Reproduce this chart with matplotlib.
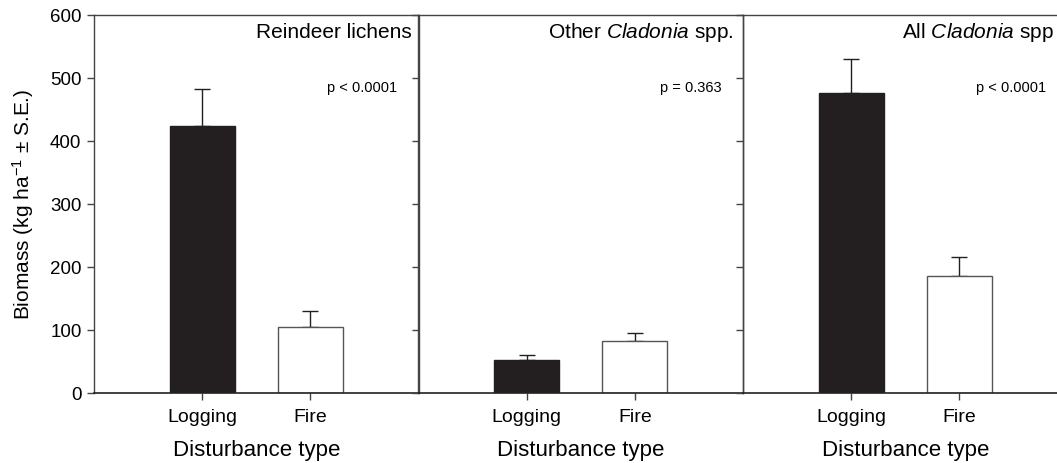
import matplotlib
matplotlib.use('Agg')
import matplotlib.pyplot as plt

plt.rcParams['font.family'] = 'Liberation Sans'
plt.rcParams['mathtext.fontset'] = 'custom'
plt.rcParams['mathtext.rm'] = 'Liberation Sans'
plt.rcParams['mathtext.it'] = 'Liberation Sans:italic'

# Data
categories = ['Logging', 'Fire']
panel_titles = ['Reindeer lichens', r'Other $\it{Cladonia}$ spp.', r'All $\it{Cladonia}$ spp']
p_values = ['p < 0.0001', 'p = 0.363', 'p < 0.0001']
means = [[424, 104], [52, 82], [475, 186]]
errors = [[58, 25], [8, 13], [55, 30]]

bar_colors = ['#231f20', 'white']
edge_colors = ['#231f20', '#555555']
title_x = [0.978, 0.972, 0.957]

fig = plt.figure(figsize=(10.57, 4.64), dpi=100)
W, H = 1057, 464
left0, pw = 94, 324.5
top, bottom = 15.7, 393.7

spine_col = '#444444'
for i in range(3):
    ax = fig.add_axes([(left0 + i * pw) / W, (H - bottom) / H, pw / W, (bottom - top) / H])
    x = [1, 2]
    ax.bar(x, means[i], width=0.6, color=bar_colors, edgecolor=edge_colors, linewidth=1.0, zorder=2)
    ax.errorbar(x, means[i], yerr=[[0, 0], errors[i]], fmt='none', ecolor='#231f20',
                elinewidth=1.0, capsize=6, capthick=1.0, zorder=1)
    ax.set_xlim(0, 3)
    ax.set_ylim(0, 600)
    ax.set_yticks(range(0, 601, 100))
    ax.set_xticks(x)
    ax.set_xticklabels(categories, fontsize=14)
    ax.tick_params(axis='both', direction='out', length=5, width=1.0, color=spine_col)
    ax.tick_params(axis='x', pad=6)
    ax.tick_params(axis='y', labelsize=13.5, pad=4)
    if i > 0:
        ax.set_yticklabels([])
    else:
        ax.set_ylabel('Biomass (kg ha$^{\\mathrm{-1}}$ ± S.E.)', fontsize=15, labelpad=10)
    ax.set_xlabel('Disturbance type', fontsize=16, labelpad=10)
    for s in ['top', 'left', 'right']:
        ax.spines[s].set_color(spine_col)
        ax.spines[s].set_linewidth(1.0)
    ax.spines['bottom'].set_color('#222222')
    ax.spines['bottom'].set_linewidth(1.2)
    ax.text(title_x[i], 0.955, panel_titles[i], transform=ax.transAxes, ha='right', va='center', fontsize=15)
    ax.text(0.935, 0.81, p_values[i], transform=ax.transAxes, ha='right', va='center', fontsize=10.5)
    ax.set_facecolor('none')

fig.savefig('out.png', dpi=100)
